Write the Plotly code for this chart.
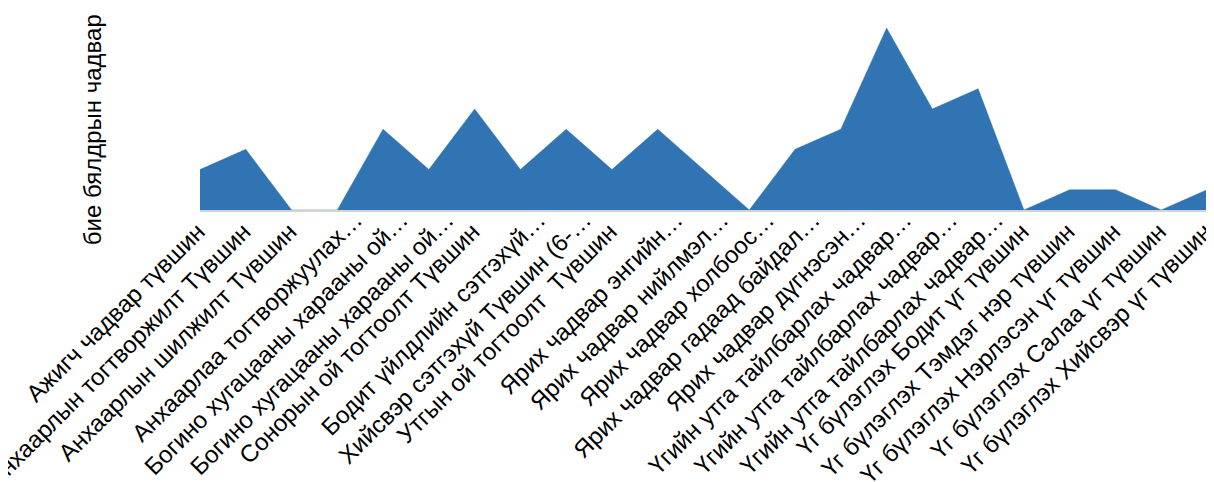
import plotly.graph_objects as go

categories = [
    "Ажигч чадвар түвшин",
    "Анхаарлын тогтворжилт Түвшин",
    "Анхаарлын шилжилт Түвшин",
    "Анхаарлаа тогтворжуулах…",
    "Богино хугацааны харааны ой…",
    "Богино хугацааны харааны ой…",
    "Сонорын ой тогтоолт Түвшин",
    "Бодит үйлдлийн сэтгэхүй…",
    "Хийсвэр сэтгэхүй Түвшин (6-…",
    "Утгын ой тогтоолт  Түвшин",
    "Ярих чадвар энгийн…",
    "Ярих чадвар нийлмэл…",
    "Ярих чадвар холбоос…",
    "Ярих чадвар гадаад байдал…",
    "Ярих чадвар дүгнэсэн…",
    "Үгийн утга тайлбарлах чадвар…",
    "Үгийн утга тайлбарлах чадвар…",
    "Үгийн утга тайлбарлах чадвар…",
    "Үг бүлэглэх Бодит үг түвшин",
    "Үг бүлэглэх Тэмдэг нэр түвшин",
    "Үг бүлэглэх Нэрлэсэн үг түвшин",
    "Үг бүлэглэх Салаа үг түвшин",
    "Үг бүлэглэх Хийсвэр үг түвшин",
]
values = [2, 3, 0, 0, 4, 2, 5, 2, 4, 2, 4, 2, 0, 3, 4, 9, 5, 6, 0, 1, 1, 0, 1]
y_title = "бие бялдрын чадвар"

positions = list(range(len(categories)))
full_pos = [p for p, c in zip(positions, categories) if not c.endswith("…")]
full_txt = [c for c in categories if not c.endswith("…")]
cut_pos = [p for p, c in zip(positions, categories) if c.endswith("…")]
cut_txt = [c for c in categories if c.endswith("…")]

fig = go.Figure()
fig.add_trace(go.Scatter(
    x=positions, y=values, mode="lines", fill="tozeroy",
    fillcolor="#3074b4", line=dict(color="#3074b4", width=0.5),
    showlegend=False, hoverinfo="skip",
))
fig.add_trace(go.Scatter(
    x=positions, y=values, mode="none", xaxis="x2",
    showlegend=False, hoverinfo="skip",
))

tick_common = dict(
    range=[0, len(categories) - 1], tickmode="array", tickangle=-45,
    showgrid=False, zeroline=False, ticks="",
    tickfont=dict(size=24, color="black"), automargin=False,
    ticklabeloverflow="allow",
)

fig.update_layout(
    width=1206, height=474,
    margin=dict(l=192, r=7, t=10, b=272),
    paper_bgcolor="white", plot_bgcolor="white",
    font=dict(family="Liberation Sans, Arial, sans-serif", size=24, color="black"),
    xaxis=dict(
        tickvals=full_pos, ticktext=full_txt,
        showline=True, linecolor="#d3d3d3", linewidth=2,
        ticklabelshift=-2, ticklabelstandoff=-4, **tick_common,
    ),
    xaxis2=dict(
        tickvals=cut_pos, ticktext=cut_txt, overlaying="x", anchor="y",
        side="bottom", showline=False, matches="x",
        ticklabelshift=18, ticklabelstandoff=-10, **tick_common,
    ),
    yaxis=dict(
        range=[0, 9.5], showgrid=False, zeroline=False,
        showticklabels=False, showline=False, ticks="",
    ),
    annotations=[dict(
        text=y_title, textangle=-90, xref="paper", yref="paper",
        x=-0.106, y=0.417, showarrow=False, xanchor="center", yanchor="middle",
        font=dict(size=24, color="black"),
    )],
)

fig.write_html("out.html")
